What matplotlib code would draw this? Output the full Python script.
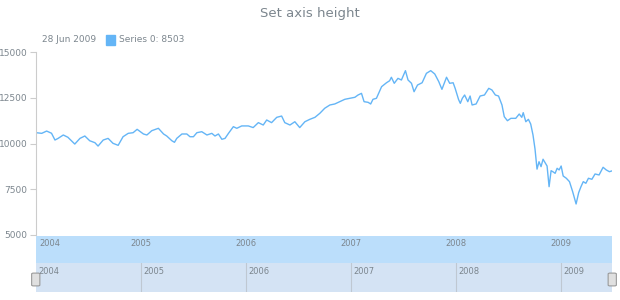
import numpy as np
import matplotlib.pyplot as plt
from matplotlib.patches import FancyBboxPatch, Rectangle

# weekly closes
dates = [
    '2004-01-02', '2004-01-21', '2004-02-07', '2004-02-24', '2004-03-07', '2004-03-18',
    '2004-04-05', '2004-04-21', '2004-05-15', '2004-06-02', '2004-06-19', '2004-07-06',
    '2004-07-24', '2004-08-04', '2004-08-22', '2004-09-08', '2004-09-25', '2004-10-13',
    '2004-10-30', '2004-11-17', '2004-12-04', '2004-12-18',
    '2005-01-09', '2005-01-21', '2005-02-07', '2005-03-02', '2005-03-20', '2005-03-31',
    '2005-04-18', '2005-04-27', '2005-05-05', '2005-05-23', '2005-06-09', '2005-06-20',
    '2005-07-02', '2005-07-14', '2005-07-31', '2005-08-18', '2005-09-04', '2005-09-15',
    '2005-09-27', '2005-10-09', '2005-10-20', '2005-11-01', '2005-11-18', '2005-11-30',
    '2005-12-17',
    '2006-01-09', '2006-01-26', '2006-02-13', '2006-03-02', '2006-03-14', '2006-03-31',
    '2006-04-18', '2006-05-05', '2006-05-16', '2006-06-03', '2006-06-20', '2006-07-07',
    '2006-07-25', '2006-08-11', '2006-08-29', '2006-09-15', '2006-10-02', '2006-10-20',
    '2006-11-06', '2006-11-23', '2006-12-11', '2006-12-28',
    '2007-01-15', '2007-01-26', '2007-02-07', '2007-02-16', '2007-03-02', '2007-03-11',
    '2007-03-19', '2007-03-31', '2007-04-18', '2007-05-05', '2007-05-16', '2007-05-22',
    '2007-06-01', '2007-06-14', '2007-06-26', '2007-07-10', '2007-07-19', '2007-07-31',
    '2007-08-09', '2007-08-21', '2007-09-06', '2007-09-21', '2007-10-06', '2007-10-20',
    '2007-11-03', '2007-11-14', '2007-11-30', '2007-12-11', '2007-12-23', '2007-12-30',
    '2008-01-11', '2008-01-17', '2008-01-24', '2008-02-01', '2008-02-12', '2008-02-20',
    '2008-02-27', '2008-03-12', '2008-03-26', '2008-04-10', '2008-04-25', '2008-05-06',
    '2008-05-18', '2008-05-29', '2008-06-10', '2008-06-18', '2008-06-29', '2008-07-11',
    '2008-07-28', '2008-08-09', '2008-08-18', '2008-08-23', '2008-09-01', '2008-09-10',
    '2008-09-18', '2008-09-26', '2008-10-03', '2008-10-10', '2008-10-17', '2008-10-24',
    '2008-10-31', '2008-11-07', '2008-11-14', '2008-11-21', '2008-11-28', '2008-12-05',
    '2008-12-12', '2008-12-19', '2008-12-26',
    '2009-01-02', '2009-01-09', '2009-01-20', '2009-01-31', '2009-02-11', '2009-02-23',
    '2009-03-04', '2009-03-12', '2009-03-20', '2009-03-29', '2009-04-07', '2009-04-19',
    '2009-04-30', '2009-05-14', '2009-05-28', '2009-06-08', '2009-06-19', '2009-06-28',
]
values = [
    10590, 10555, 10680, 10560, 10190, 10280,
    10465, 10340, 9970, 10280, 10410, 10150,
    10045, 9860, 10190, 10280, 10010, 9900,
    10370, 10555, 10590, 10775,
    10520, 10465, 10700, 10830, 10520, 10410,
    10150, 10065, 10280, 10520, 10520, 10370,
    10370, 10590, 10645, 10465, 10555, 10410,
    10520, 10230, 10280, 10555, 10920, 10830,
    10960,
    10960, 10870, 11140, 11010, 11285, 11140,
    11430, 11500, 11140, 11010, 11190, 10870,
    11190, 11320, 11430, 11650, 11925, 12105,
    12160, 12285, 12415, 12470,
    12525, 12650, 12740, 12285, 12250, 12160,
    12415, 12470, 13105, 13320, 13430, 13620,
    13290, 13560, 13470, 13980, 13470, 13290,
    12830, 13195, 13320, 13835, 13980, 13800,
    13380, 12960, 13620, 13290, 13320, 13015,
    12400, 12195, 12470, 12650, 12285, 12595,
    12105, 12160, 12595, 12650, 13015, 12925,
    12650, 12595, 12105, 11465, 11245, 11375,
    11375, 11610, 11430, 11685, 11190, 11320,
    11065, 10465, 9700, 8600, 9005, 8735,
    9140, 8950, 8770, 7640, 8515, 8450,
    8370, 8645, 8555,
    8770, 8225, 8100, 7915, 7370, 6695,
    7315, 7640, 7915, 7825, 8100, 8045,
    8335, 8280, 8700, 8555, 8460, 8503,
]
years = ['2004', '2005', '2006', '2007', '2008', '2009']
y_ticks = [5000, 7500, 10000, 12500, 15000]

line_color = '#64b5f6'
text_color = '#7c868e'
band_color = '#bbdefb'
scroll_color = '#d4e3f4'

x = np.array(dates, dtype='datetime64[D]')
x_min = np.datetime64('2004-01-01')
x_max = np.datetime64('2009-06-28')
year_starts = np.array([y + '-01-01' for y in years], dtype='datetime64[D]')

W, H = 620, 300
fig = plt.figure(figsize=(W / 100, H / 100), dpi=100)

def box(l, t, r, b):
    return [l / W, 1 - b / H, (r - l) / W, (b - t) / H]

# title and legend
fig.text(0.5, 1 - 14 / H, 'Set axis height', ha='center', va='center',
         color=text_color, fontsize=9.5)
fig.text(42 / W, 1 - 40 / H, '28 Jun 2009', ha='left', va='center',
         color=text_color, fontsize=6.5)
fig.patches.append(Rectangle((106 / W, 1 - 45 / H), 9 / W, 10 / H,
                             transform=fig.transFigure, color=line_color))
fig.text(119 / W, 1 - 40 / H, 'Series 0: 8503', ha='left', va='center',
         color=text_color, fontsize=6.5)

# main plot
ax = fig.add_axes(box(36, 52, 612, 235))
ax.plot(x, values, color=line_color, lw=1.0)
ax.set_xlim(x_min, x_max)
ax.set_ylim(5000, 15000)
ax.set_yticks(y_ticks)
ax.set_yticklabels([str(v) for v in y_ticks])
ax.tick_params(axis='y', colors='#cccccc', labelcolor=text_color,
               labelsize=6.5, length=4, width=0.8, pad=2)
ax.set_xticks([])
for s in ['top', 'right', 'bottom']:
    ax.spines[s].set_visible(False)
ax.spines['left'].set_color('#cccccc')
ax.spines['left'].set_linewidth(0.8)

# x axis band
band = fig.add_axes(box(36, 236, 612, 263))
band.set_facecolor(band_color)
band.set_xlim(x_min, x_max)
band.set_ylim(0, 1)
band.set_xticks([])
band.set_yticks([])
for s in band.spines.values():
    s.set_visible(False)
for i, d in enumerate(year_starts):
    band.text(d + (np.timedelta64(12, 'D') if i == 0 else np.timedelta64(0, 'D')),
              0.73, years[i], ha='left' if i == 0 else 'center', va='center',
              color=text_color, fontsize=6)

# scroller
sc = fig.add_axes(box(36, 263, 612, 292))
sc.set_facecolor(scroll_color)
sc.set_xlim(x_min, x_max)
sc.set_ylim(0, 1)
sc.set_xticks([])
sc.set_yticks([])
for s in sc.spines.values():
    s.set_visible(False)
for i, d in enumerate(year_starts):
    if i > 0:
        sc.axvline(d, color='#bfc8d2', lw=0.8)
    sc.text(d + np.timedelta64(8, 'D'), 0.72, years[i], ha='left', va='center',
            color=text_color, fontsize=6)

# scroller handles
for hx in [33.5, 610]:
    fig.patches.append(FancyBboxPatch((hx / W, 1 - 285 / H), 4.5 / W, 11 / H,
                                      boxstyle='round,pad=0.003',
                                      transform=fig.transFigure,
                                      facecolor='#e0e0e0', edgecolor='#9a9a9a',
                                      lw=0.8))

fig.savefig('out.png', dpi=100)
